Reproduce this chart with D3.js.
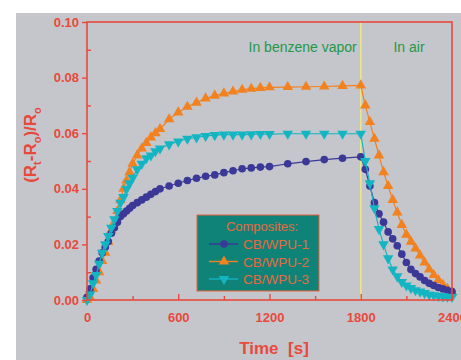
<!DOCTYPE html>
<html>
<head>
<meta charset="utf-8">
<script src="https://cdn.jsdelivr.net/npm/d3@7/dist/d3.min.js"></script>
<style>
  html, body { margin: 0; padding: 0; background: #ffffff; }
  svg { display: block; }
  text { font-family: "Liberation Sans", Arial, sans-serif; }
</style>
</head>
<body>
<svg id="chart" width="461" height="360"></svg>
<script>
// Response (Rt - Ro)/Ro of three CB/WPU composites: exposure then recovery
const seriesNames = ["CB/WPU-1", "CB/WPU-2", "CB/WPU-3"];

const timeRise = [0, 20, 40, 60, 80, 100, 120, 140, 160, 180, 200, 220, 240, 260, 280, 300,
  330, 360, 390, 420, 450, 480, 540, 600, 660, 720, 780, 840, 900, 960, 1020, 1080, 1140, 1200,
  1320, 1440, 1560, 1680, 1800];
const timeFall = [1830, 1860, 1890, 1920, 1950, 1980, 2010, 2040, 2070, 2100, 2130, 2160, 2190,
  2220, 2250, 2280, 2310, 2340, 2370, 2400];

const wpu1Rise = [0.001, 0.004, 0.008, 0.011, 0.014, 0.017, 0.019, 0.021, 0.024, 0.026, 0.028, 0.030,
  0.031, 0.032, 0.033, 0.034, 0.035, 0.036, 0.037, 0.038, 0.039, 0.040, 0.041, 0.042, 0.043, 0.0438,
  0.0445, 0.045, 0.0458, 0.0465, 0.0472, 0.0475, 0.0478, 0.048, 0.049, 0.0498, 0.0505, 0.051, 0.0515];
const wpu1Fall = [0.047, 0.041, 0.035, 0.031, 0.028, 0.0245, 0.022, 0.0195, 0.0165, 0.0135, 0.011,
  0.0095, 0.0083, 0.007, 0.006, 0.0052, 0.0045, 0.004, 0.0035, 0.003];

const wpu2Rise = [0.000, 0.001, 0.004, 0.007, 0.010, 0.014, 0.017, 0.021, 0.025, 0.028, 0.032, 0.036,
  0.040, 0.043, 0.046, 0.049, 0.052, 0.0545, 0.0565, 0.0585, 0.060, 0.0615, 0.065, 0.0675, 0.0695,
  0.071, 0.0725, 0.0735, 0.0743, 0.075, 0.0756, 0.076, 0.0763, 0.0765, 0.0766, 0.0767, 0.0768,
  0.077, 0.0772];
const wpu2Fall = [0.070, 0.064, 0.058, 0.052, 0.046, 0.041, 0.036, 0.0315, 0.027, 0.0235, 0.021,
  0.0185, 0.016, 0.0135, 0.011, 0.009, 0.0072, 0.0055, 0.004, 0.0028];

const wpu3Rise = [0.000, 0.002, 0.006, 0.009, 0.013, 0.017, 0.020, 0.023, 0.026, 0.029, 0.032, 0.035,
  0.037, 0.040, 0.042, 0.044, 0.047, 0.049, 0.051, 0.052, 0.0535, 0.0545, 0.056, 0.057, 0.058,
  0.0585, 0.059, 0.0593, 0.0595, 0.0595, 0.0595, 0.0596, 0.0597, 0.0597, 0.0598, 0.0598, 0.0598,
  0.0598, 0.0598];
const wpu3Fall = [0.050, 0.042, 0.033, 0.0255, 0.020, 0.015, 0.011, 0.0085, 0.0065, 0.0052, 0.0043,
  0.0035, 0.003, 0.0025, 0.002, 0.0017, 0.0015, 0.0013, 0.0012, 0.0011];

const xTicks = [0, 600, 1200, 1800, 2400];
const xMinorTicks = [300, 900, 1500, 2100];
const yTicks = [0, 0.02, 0.04, 0.06, 0.08, 0.10];
const yMinorTicks = [0.01, 0.03, 0.05, 0.07, 0.09];
const switchTime = 1800;
const phaseLabels = ["In benzene vapor", "In air"];

const colors = ["#3b3897", "#f2811f", "#14b5c2"];
const symbols = ["circle", "up", "down"];

const allTime = timeRise.concat(timeFall);
const series = [
  wpu1Rise.concat(wpu1Fall),
  wpu2Rise.concat(wpu2Fall),
  wpu3Rise.concat(wpu3Fall)
].map((vals, i) => ({
  name: seriesNames[i],
  color: colors[i],
  symbol: symbols[i],
  points: vals.map((v, j) => ({ t: allTime[j], v: v }))
}));

const red = "#e9493b";
const svg = d3.select("#chart");

// grey panel behind the whole figure
svg.append("rect").attr("x", 16).attr("y", 13).attr("width", 445).attr("height", 347)
  .attr("fill", "#c4c6cc");

const plot = { left: 87, right: 452, top: 22, bottom: 300 };
const x = d3.scaleLinear().domain([0, 2400]).range([plot.left, plot.right]);
const y = d3.scaleLinear().domain([0, 0.10]).range([plot.bottom, plot.top]);

// exposure / recovery boundary
svg.append("line")
  .attr("x1", x(switchTime)).attr("x2", x(switchTime))
  .attr("y1", plot.top).attr("y2", plot.bottom)
  .attr("stroke", "#ece58a").attr("stroke-width", 1.5);

svg.append("text").attr("x", x(switchTime) - 4).attr("y", 52)
  .attr("text-anchor", "end").attr("font-size", 14).attr("fill", "#259848")
  .text(phaseLabels[0]);
svg.append("text").attr("x", 409).attr("y", 52)
  .attr("text-anchor", "middle").attr("font-size", 14).attr("fill", "#259848")
  .text(phaseLabels[1]);

// symbol generators
function symbolPath(kind) {
  if (kind === "circle") return d3.symbol().type(d3.symbolCircle).size(46)();
  return d3.symbol().type(d3.symbolTriangle).size(48)();
}

const line = d3.line().x(d => x(d.t)).y(d => y(d.v));

const drawOrder = [1, 0, 2];
drawOrder.forEach(i => {
  const s = series[i];
  const g = svg.append("g");
  g.append("path").datum(s.points)
    .attr("d", line).attr("fill", "none")
    .attr("stroke", s.color).attr("stroke-width", 1.2);
  g.selectAll("path.m").data(s.points).join("path")
    .attr("class", "m")
    .attr("d", symbolPath(s.symbol))
    .attr("transform", d => `translate(${x(d.t)},${y(d.v)})` + (s.symbol === "down" ? " rotate(180)" : ""))
    .attr("fill", s.color);
});

// frame
svg.append("rect")
  .attr("x", plot.left).attr("y", plot.top)
  .attr("width", plot.right - plot.left).attr("height", plot.bottom - plot.top)
  .attr("fill", "none").attr("stroke", red).attr("stroke-width", 1.6);

// x axis: ticks point into the plot
const xAxis = svg.append("g").attr("transform", `translate(0,${plot.bottom})`)
  .call(d3.axisBottom(x).tickValues(xTicks).tickSizeInner(-6).tickSizeOuter(0).tickPadding(13)
    .tickFormat(d3.format("d")));
xAxis.select(".domain").remove();
svg.append("g").attr("transform", `translate(0,${plot.bottom})`)
  .call(d3.axisBottom(x).tickValues(xMinorTicks).tickSizeInner(-4).tickSizeOuter(0).tickFormat(""))
  .select(".domain").remove();

// y axis: major ticks outside, minor ticks inside
const yAxis = svg.append("g").attr("transform", `translate(${plot.left},0)`)
  .call(d3.axisLeft(y).tickValues(yTicks).tickSizeInner(5).tickSizeOuter(0).tickPadding(3)
    .tickFormat(d3.format(".2f")));
yAxis.select(".domain").remove();
svg.append("g").attr("transform", `translate(${plot.left},0)`)
  .call(d3.axisLeft(y).tickValues(yMinorTicks).tickSizeInner(-4).tickSizeOuter(0).tickFormat(""))
  .select(".domain").remove();

svg.selectAll(".tick line").attr("stroke", red).attr("stroke-width", 1.4);
svg.selectAll(".tick text")
  .attr("fill", red).attr("font-size", 13).attr("font-weight", "bold")
  .attr("font-family", "'Liberation Sans', Arial, sans-serif");

// axis titles
svg.append("text").attr("x", 274).attr("y", 354)
  .attr("text-anchor", "middle").attr("font-size", 17).attr("font-weight", "bold")
  .attr("fill", red).attr("xml:space", "preserve").text("Time  [s]");

const yTitle = svg.append("text")
  .attr("transform", "translate(36,145) rotate(-90)")
  .attr("text-anchor", "middle").attr("font-size", 17).attr("font-weight", "bold")
  .attr("fill", red);
yTitle.append("tspan").text("(R");
yTitle.append("tspan").attr("font-size", 11).attr("dy", 5).text("t");
yTitle.append("tspan").attr("dy", -5).text("-R");
yTitle.append("tspan").attr("font-size", 11).attr("dy", 5).text("o");
yTitle.append("tspan").attr("dy", -5).text(")/R");
yTitle.append("tspan").attr("font-size", 11).attr("dy", 5).text("o");

// legend
const lg = svg.append("g").attr("transform", "translate(197,215)");
lg.append("rect").attr("width", 122).attr("height", 76)
  .attr("fill", "#108379").attr("stroke", "#e8603c").attr("stroke-width", 1);
lg.append("text").attr("x", 65).attr("y", 16).attr("text-anchor", "middle")
  .attr("font-size", 13).attr("fill", "#e66a3e").text("Composites:");
series.forEach((s, i) => {
  const ry = 29 + i * 17.5;
  lg.append("line").attr("x1", 12).attr("x2", 41).attr("y1", ry).attr("y2", ry)
    .attr("stroke", s.color).attr("stroke-width", 1.4);
  lg.append("path").attr("d", symbolPath(s.symbol))
    .attr("transform", `translate(27,${ry})` + (s.symbol === "down" ? " rotate(180)" : ""))
    .attr("fill", s.color);
  lg.append("text").attr("x", 46).attr("y", ry + 5)
    .attr("font-size", 13.5).attr("fill", "#e66a3e").text(s.name);
});
</script>
</body>
</html>
